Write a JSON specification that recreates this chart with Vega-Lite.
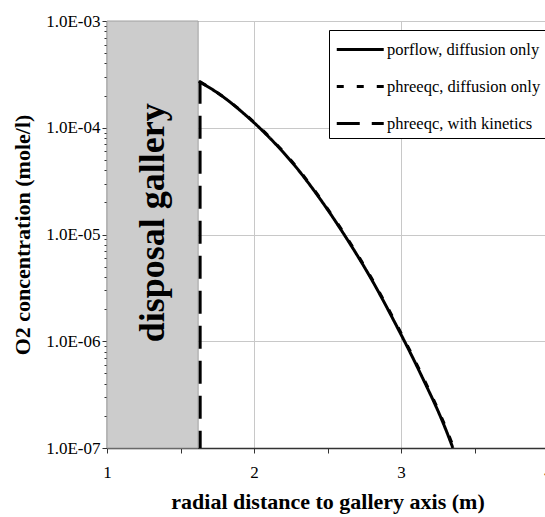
{
  "$schema": "https://vega.github.io/schema/vega-lite/v6.json",
  "width": 438,
  "height": 427,
  "autosize": {"type": "none"},
  "padding": {"left": 107, "top": 21, "right": 0, "bottom": 69},
  "background": "white",
  "config": {
    "font": "Liberation Serif",
    "view": {"stroke": "#a0a0a0", "strokeWidth": 1},
    "axis": {
      "labelFont": "Liberation Serif",
      "labelFontSize": 17,
      "labelColor": "black",
      "titleFont": "Liberation Serif",
      "titleFontSize": 22,
      "titleFontWeight": "bold",
      "titleColor": "black",
      "domainColor": "#333333",
      "domainWidth": 1.5,
      "tickColor": "#333333",
      "gridColor": "#c8c8c8",
      "labelOverlap": false,
      "labelFlush": false,
      "labelBound": false
    },
    "legend": {
      "labelFont": "Liberation Serif",
      "labelFontSize": 16.5,
      "labelColor": "black"
    }
  },
  "datasets": {
    "curves": [
      {"series": "porflow, diffusion only", "x": 1.625, "y": 2.72e-4},
      {"series": "porflow, diffusion only", "x": 1.770, "y": 2.04e-4},
      {"series": "porflow, diffusion only", "x": 1.941, "y": 1.32e-4},
      {"series": "porflow, diffusion only", "x": 2.111, "y": 7.93e-5},
      {"series": "porflow, diffusion only", "x": 2.281, "y": 4.36e-5},
      {"series": "porflow, diffusion only", "x": 2.452, "y": 2.13e-5},
      {"series": "porflow, diffusion only", "x": 2.622, "y": 9.56e-6},
      {"series": "porflow, diffusion only", "x": 2.792, "y": 3.96e-6},
      {"series": "porflow, diffusion only", "x": 2.962, "y": 1.46e-6},
      {"series": "porflow, diffusion only", "x": 3.133, "y": 4.96e-7},
      {"series": "porflow, diffusion only", "x": 3.303, "y": 1.51e-7},
      {"series": "porflow, diffusion only", "x": 3.353, "y": 1.0e-7},
      {"series": "phreeqc, diffusion only", "x": 1.631, "y": 2.70e-4},
      {"series": "phreeqc, diffusion only", "x": 1.776, "y": 2.02e-4},
      {"series": "phreeqc, diffusion only", "x": 1.947, "y": 1.31e-4},
      {"series": "phreeqc, diffusion only", "x": 2.117, "y": 7.88e-5},
      {"series": "phreeqc, diffusion only", "x": 2.287, "y": 4.33e-5},
      {"series": "phreeqc, diffusion only", "x": 2.458, "y": 2.11e-5},
      {"series": "phreeqc, diffusion only", "x": 2.628, "y": 9.5e-6},
      {"series": "phreeqc, diffusion only", "x": 2.798, "y": 3.93e-6},
      {"series": "phreeqc, diffusion only", "x": 2.968, "y": 1.45e-6},
      {"series": "phreeqc, diffusion only", "x": 3.139, "y": 4.93e-7},
      {"series": "phreeqc, diffusion only", "x": 3.309, "y": 1.5e-7},
      {"series": "phreeqc, diffusion only", "x": 3.359, "y": 1.0e-7},
      {"series": "phreeqc, with kinetics", "x": 1.633, "y": 2.75e-4},
      {"series": "phreeqc, with kinetics", "x": 1.634, "y": 1.0e-7}
    ],
    "gallery": [
      {"x1": 1.0, "x2": 1.62, "y1": 1e-7, "y2": 1e-3, "label": "disposal gallery", "xm": 1.31, "ym": 1.29e-5}
    ]
  },
  "layer": [
    {
      "data": {"name": "gallery"},
      "mark": {"type": "rect", "fill": "#cccccc", "stroke": "#a0a0a0", "strokeWidth": 1},
      "encoding": {
        "x": {"field": "x1", "type": "quantitative"},
        "x2": {"field": "x2"},
        "y": {"field": "y1", "type": "quantitative"},
        "y2": {"field": "y2"}
      }
    },
    {
      "data": {"name": "gallery"},
      "mark": {"type": "text", "angle": 270, "align": "center", "baseline": "middle", "font": "Liberation Serif", "fontWeight": "bold", "fontSize": 36, "color": "black"},
      "encoding": {
        "x": {"field": "xm", "type": "quantitative"},
        "y": {"field": "ym", "type": "quantitative"},
        "text": {"field": "label"}
      }
    },
    {
      "data": {"name": "curves"},
      "mark": {"type": "line", "color": "black", "strokeWidth": 3, "clip": true, "interpolate": "monotone"},
      "encoding": {
        "x": {
          "field": "x", "type": "quantitative",
          "scale": {"domain": [1, 4], "range": [0, 441], "nice": false, "zero": false},
          "axis": {
            "title": "radial distance to gallery axis (m)",
            "values": [1, 1.5, 2, 2.5, 3, 3.5, 4],
            "labelExpr": "datum.value % 1 == 0 ? format(datum.value, 'd') : ''",
            "gridOpacity": {"condition": {"test": "datum.value % 1 == 0", "value": 1}, "value": 0},
            "tickSize": 5,
            "labelPadding": 11,
            "titlePadding": 11
          }
        },
        "y": {
          "field": "y", "type": "quantitative",
          "scale": {"type": "log", "domain": [1e-7, 1e-3], "nice": false},
          "axis": {
            "title": "O2 concentration (mole/l)",
            "values": [1e-7, 2e-7, 3e-7, 4e-7, 5e-7, 6e-7, 7e-7, 8e-7, 9e-7, 1e-6, 2e-6, 3e-6, 4e-6, 5e-6, 6e-6, 7e-6, 8e-6, 9e-6, 1e-5, 2e-5, 3e-5, 4e-5, 5e-5, 6e-5, 7e-5, 8e-5, 9e-5, 1e-4, 2e-4, 3e-4, 4e-4, 5e-4, 6e-4, 7e-4, 8e-4, 9e-4, 1e-3],
            "labelExpr": "abs(log(datum.value)/LN10 - round(log(datum.value)/LN10)) < 0.01 ? '1.0E-0' + (-round(log(datum.value)/LN10)) : ''",
            "gridOpacity": {"condition": {"test": "abs(log(datum.value)/LN10 - round(log(datum.value)/LN10)) < 0.01", "value": 1}, "value": 0},
            "tickSize": {"condition": {"test": "abs(log(datum.value)/LN10 - round(log(datum.value)/LN10)) < 0.01", "value": 5}, "value": 3},
            "labelPadding": 2,
            "titlePadding": 11
          }
        },
        "detail": {"field": "series"},
        "strokeDash": {
          "field": "series", "type": "nominal",
          "scale": {
            "domain": ["porflow, diffusion only", "phreeqc, diffusion only", "phreeqc, with kinetics"],
            "range": [[1, 0], [7, 13], [23, 12]]
          },
          "legend": {
            "title": null,
            "orient": "none",
            "legendX": 222,
            "legendY": 9,
            "symbolType": "M-1,0H3",
            "symbolSize": 552,
            "symbolStrokeWidth": 3,
            "symbolStrokeColor": "black",
            "symbolFillColor": "transparent",
            "labelOffset": 25,
            "rowPadding": 15,
            "padding": 6,
            "titlePadding": 0,
            "strokeColor": "black",
            "fillColor": "white",
            "cornerRadius": 0
          }
        }
      }
    }
  ]
}
